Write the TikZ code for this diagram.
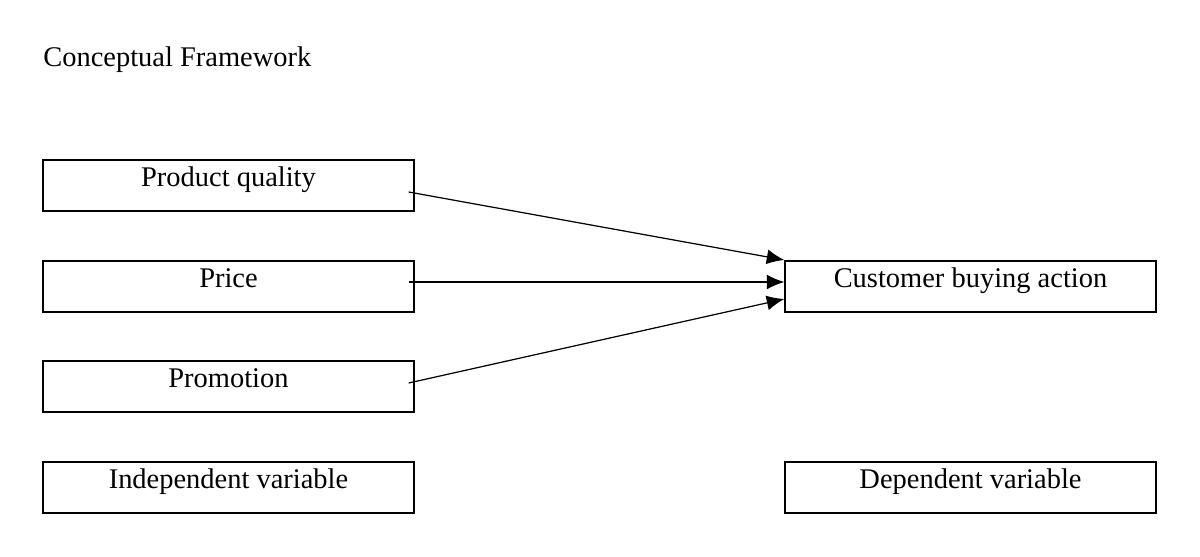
\documentclass[tikz,border=0pt]{standalone}
\usepackage{fontspec}
\setmainfont{Liberation Serif}
\usetikzlibrary{calc, arrows.meta, positioning}
\usepackage{xcolor}

\begin{document}
\begin{tikzpicture}[x=0.02cm, y=-0.02cm, >={Latex[length=10pt, width=8.5pt]}]
				\tikzstyle{box} = [draw=black, line width=0.8pt, rectangle, minimum width=7.42cm, minimum height=1.02cm, inner sep=0pt, font=\fontsize{16.2}{19}\selectfont, text height=0.75em, text depth=0.62em]
				\tikzstyle{invis} = [draw=none, inner sep=0pt, font=\fontsize{16.2}{19}\selectfont]
				
				\useasboundingbox (0,0) rectangle (1200,557);
				
				\node[invis, anchor=base west]	at (43, 67)		(title)	{Conceptual Framework};
				\node[box] 			at (228.5, 185.5) 	(pq) 	{Product quality};
				\node[box] 			at (228.5, 286.5) 	(pr) 	{Price};
				\node[box] 			at (228.5, 386.5) 	(pm) 	{Promotion};
				\node[box] 			at (228.5, 487.5) 	(iv) 	{Independent variable};
				\node[box] 			at (970.5, 286.5) 	(cba) 	{Customer buying action};
				\node[box] 			at (970.5, 487.5) 	(dv) 	{Dependent variable};
				
				\coordinate (pqs) at ($(pq.east)+(-6,6.5)$);
				\coordinate (prs) at ($(pr.east)+(-6,-4.5)$);
				\coordinate (pms) at ($(pm.east)+(-6,-3.5)$);
				\coordinate (e1) at ($(cba.west)+(0,-26.5)$);
				\coordinate (e2) at ($(cba.west)+(0,-4.5)$);
				\coordinate (e3) at ($(cba.west)+(0,12.5)$);
				
				\path[->, line width=0.7pt]
				(pqs)	edge	(e1)
				(prs)	edge	(e2)
				(pms)	edge	(e3);
			\end{tikzpicture}
\end{document}
